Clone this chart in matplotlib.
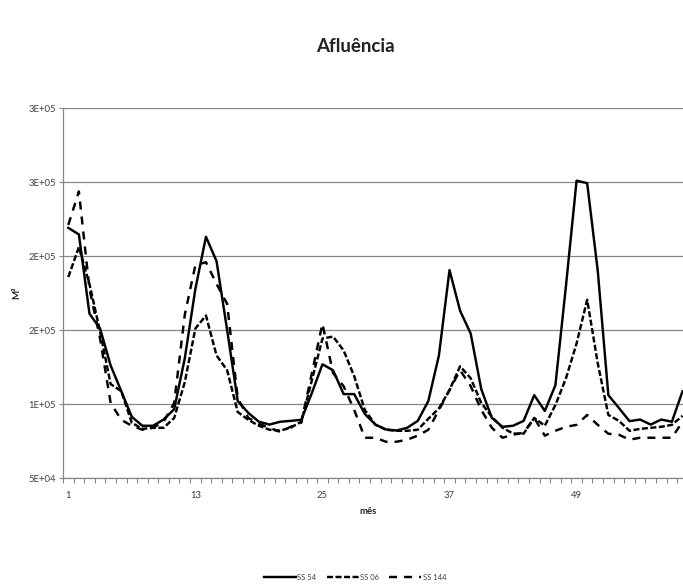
import numpy as np
import matplotlib
matplotlib.use("Agg")
import matplotlib.pyplot as plt
from matplotlib.ticker import FixedLocator

plt.rcParams['font.family'] = ['Lato', 'DejaVu Sans']

# monthly inflow (m3) for each station, months 1..59
meses = np.arange(1, 60)
ss54 = [219000, 214600, 161000, 151000, 126000, 108700, 91300, 85300, 85300, 89500,
        96500, 130800, 177700, 213000, 196500, 150000, 102000, 94000, 88000, 86100,
        88000, 88600, 89300, 107400, 126800, 122800, 106700, 106700, 93300, 86100,
        82800, 82100, 83900, 88600, 102000, 132800, 190500, 163000, 147600, 110000,
        90600, 84600, 85300, 88600, 106000, 95300, 112700, 180000, 250900, 249200,
        190000, 106000, 97300, 88400, 89500, 86100, 89500, 88000, 108500]
ss06 = [185800, 206000, 181000, 149000, 113400, 108700, 87300, 83200, 83900, 83900,
        90600, 114700, 151000, 159800, 132800, 122800, 94600, 89300, 85300, 82600,
        82000, 84000, 88000, 116000, 144200, 145600, 136200, 118800, 96000, 86000,
        82600, 81900, 81900, 82600, 90000, 97000, 109400, 125500, 117400, 100700,
        91300, 84000, 80000, 80000, 90600, 85300, 99300, 117400, 140900, 170400,
        127500, 92600, 88600, 81900, 83200, 83900, 84600, 85900, 92000]
ss144 = [221000, 243600, 177700, 144200, 100700, 89300, 85300, 82600, 84000, 88000,
         100700, 160300, 193800, 195800, 181100, 167700, 104000, 90600, 86600, 83900,
         81200, 84600, 87300, 120800, 154300, 121000, 112000, 96000, 77200, 77200,
         74500, 74500, 75900, 78600, 82600, 96000, 109400, 122800, 112100, 96000,
         83900, 77200, 79200, 80600, 90600, 78600, 81900, 84600, 85900, 92600,
         85900, 79900, 79200, 75900, 77200, 77200, 77200, 77200, 88000]

y_ticks = [50000, 100000, 150000, 200000, 250000, 300000]
y_labels = ['5E+04', '1E+05', '2E+05', '2E+05', '3E+05', '3E+05']
x_ticks = [1, 13, 25, 37, 49]

W, H = 683, 585
fig = plt.figure(figsize=(W / 100, H / 100), dpi=100)
ax = fig.add_axes([63 / W, 1 - 478 / H, 620 / W, 370 / H])

lw = 1.75
ax.plot(meses, ss54, color='black', lw=lw, label='SS 54')
ax.plot(meses, ss06, color='black', lw=lw, linestyle=(0, (2.5, 1.0)), label='SS 06')
ax.plot(meses, ss144, color='black', lw=lw, linestyle=(0, (3.3, 2.9)), label='SS 144')

ax.set_xlim(0.5, 59.05)
ax.set_ylim(50000, 300000)

grey = '#868686'
for s in ['top', 'right']:
    ax.spines[s].set_visible(False)
for s in ['left', 'bottom']:
    ax.spines[s].set_color(grey)
    ax.spines[s].set_linewidth(0.9)

ax.set_yticks(y_ticks)
ax.set_yticklabels(y_labels)
ax.yaxis.grid(True, color=grey, lw=0.9)
ax.set_axisbelow(True)
ax.tick_params(axis='y', length=3, width=0.8, color=grey, pad=2,
               labelsize=6.8, labelcolor='#404040')

ax.set_xticks(x_ticks)
ax.set_xticklabels([str(v) for v in x_ticks])
ax.xaxis.set_minor_locator(FixedLocator(np.arange(0.5, 59.5, 1)))
ax.tick_params(axis='x', which='major', length=0, pad=9,
               labelsize=6.8, labelcolor='#404040')
ax.tick_params(axis='x', which='minor', length=3.5, width=0.8, color=grey)

fig.text(355 / W, 1 - 47 / H, 'Afluência', ha='center', va='center',
         fontsize=13.5, fontweight='bold', color='#222222')
fig.text(368 / W, 1 - 512 / H, 'mês', ha='center', va='center',
         fontsize=6.8, fontweight='bold', color='#222222')
fig.text(17 / W, 1 - 293 / H, 'M³', ha='center', va='center', rotation=90,
         fontsize=7, fontweight='bold', color='#222222')

fig.legend(loc='center', bbox_to_anchor=(355 / W, 1 - 577 / H), ncol=3,
           frameon=False, fontsize=5.5, handlelength=4.2, handletextpad=0.2,
           columnspacing=1.3, labelcolor='#404040')

fig.savefig('out.png', dpi=100)
